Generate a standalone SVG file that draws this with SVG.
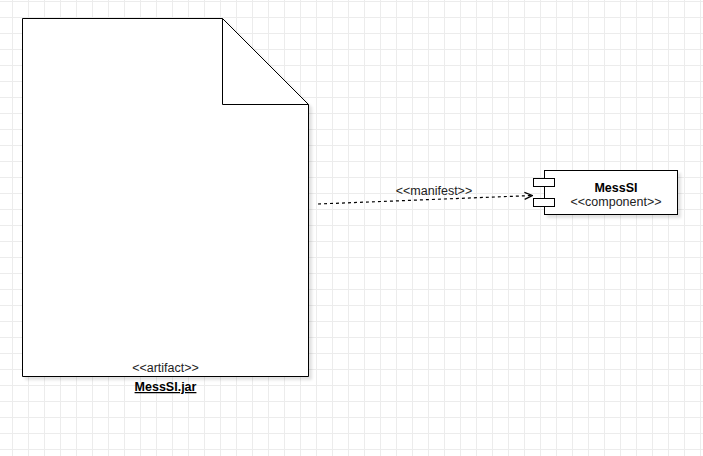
<svg xmlns="http://www.w3.org/2000/svg" width="703" height="456" viewBox="0 0 703 456">
<defs>
<pattern id="grid" patternUnits="userSpaceOnUse" x="12" y="1" width="16" height="16">
<path d="M0 0.5H16M0.5 0V16" fill="none" stroke="#ececec" stroke-width="1"/>
</pattern>
<filter id="shadow" x="-10%" y="-10%" width="130%" height="130%">
<feGaussianBlur in="SourceAlpha" stdDeviation="1.7"/>
<feOffset dx="3" dy="3" result="b"/>
<feComponentTransfer><feFuncA type="linear" slope="0.12"/></feComponentTransfer>
<feMerge><feMergeNode/><feMergeNode in="SourceGraphic"/></feMerge>
</filter>
<marker id="open" viewBox="0 0 10 10" refX="9" refY="5" markerWidth="10" markerHeight="10" markerUnits="userSpaceOnUse" orient="auto">
<path d="M1 1.5L9 5L1 8.5" fill="none" stroke="#000" stroke-width="1.3"/>
</marker>
<style>
.shape{fill:#fff;stroke:#000;stroke-width:1}
.t{font-family:"Liberation Sans",Arial,sans-serif;font-size:12.5px;fill:#222;text-anchor:middle}
.b{font-weight:bold;fill:#000}
</style>
</defs>
<rect width="703" height="456" fill="#fff"/>
<rect width="703" height="456" fill="url(#grid)"/>
<g id="artifact">
<path class="shape" filter="url(#shadow)" d="M22.5 18.5H222.5L308.5 104.5V376.5H22.5Z"/>
<path d="M222.5 18.5V104.5H308.5" fill="none" stroke="#000"/>
<text class="t" x="165.5" y="372">&lt;&lt;artifact&gt;&gt;</text>
<text class="t b" x="165.5" y="391" text-decoration="underline">MessSI.jar</text>
</g>
<g id="component">
<rect class="shape" filter="url(#shadow)" x="544.5" y="170.5" width="133" height="44"/>
<rect class="shape" x="533.5" y="178.5" width="21" height="8"/>
<rect class="shape" x="533.5" y="198.5" width="21" height="8"/>
<text class="t b" x="616" y="192">MessSI</text>
<text class="t" x="616" y="206">&lt;&lt;component&gt;&gt;</text>
</g>
<g id="connectors">
<path d="M318 204L532.5 195.5" fill="none" stroke="#000" stroke-width="1.2" stroke-dasharray="3 3" marker-end="url(#open)"/>
<text class="t" x="434" y="195">&lt;&lt;manifest&gt;&gt;</text>
</g>
</svg>
